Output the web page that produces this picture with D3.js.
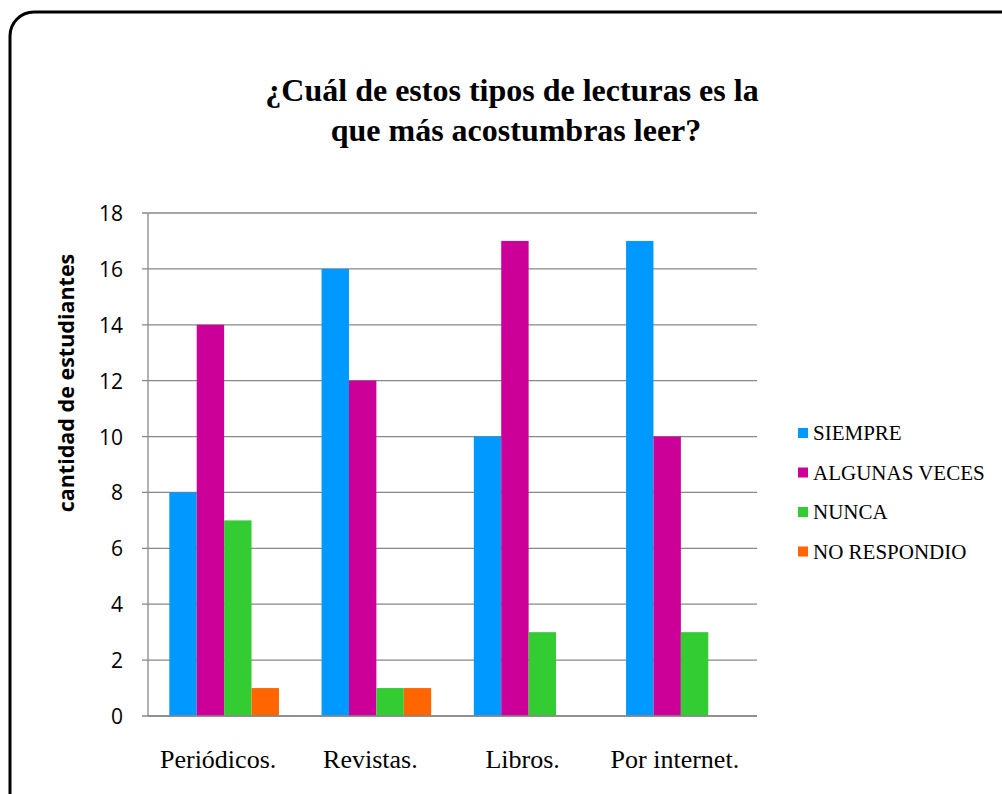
<html>
<head>
  <meta charset="utf-8">
  <title>Tipos de lecturas</title>
  <style>
    html, body { margin: 0; padding: 0; background: #fff; }
    svg { display: block; }
  </style>
  <script src="https://d3js.org/d3.v7.js" charset="utf-8"></script>
</head>
<body>
<script>
  var categories = ['Periódicos.', 'Revistas.', 'Libros.', 'Por internet.'];
  var seriesNames = ['SIEMPRE', 'ALGUNAS VECES', 'NUNCA', 'NO RESPONDIO'];
  var siempre = [8, 16, 10, 17];
  var algunasVeces = [14, 12, 17, 10];
  var nunca = [7, 1, 3, 3];
  var noRespondio = [1, 1, 0, 0];
  var yTicks = [0, 2, 4, 6, 8, 10, 12, 14, 16, 18];
  var colors = ['#0099FF', '#CC0099', '#33CC33', '#FF6600'];

  var width = 1002, height = 794;
  var svg = d3.select('body').append('svg')
    .attr('width', width)
    .attr('height', height);

  // marco redondeado (sale del lienzo por la derecha y abajo)
  svg.append('rect')
    .attr('x', 10).attr('y', 12)
    .attr('width', 1020).attr('height', 820)
    .attr('rx', 24).attr('ry', 24)
    .attr('fill', '#fff')
    .attr('stroke', '#000')
    .attr('stroke-width', 3);

  var values = [siempre, algunasVeces, nunca, noRespondio];
  var rows = categories.map(function (c, i) {
    return { cat: c, vals: values.map(function (s) { return s[i]; }) };
  });

  var plotLeft = 148, plotRight = 757, plotTop = 213, plotBottom = 716;

  var x0 = d3.scaleBand().domain(categories).range([plotLeft, plotRight]).paddingInner(0.28).paddingOuter(0.14);
  var x1 = d3.scaleBand().domain(seriesNames).range([0, x0.bandwidth()]);
  var y = d3.scaleLinear().domain([0, 18]).range([plotBottom, plotTop]);

  // rejilla
  svg.append('g').selectAll('line')
    .data(yTicks)
    .enter().append('line')
    .attr('x1', plotLeft - 6).attr('x2', plotRight)
    .attr('y1', d => y(d)).attr('y2', d => y(d))
    .attr('stroke', '#888').attr('stroke-width', 1.3);

  // eje vertical
  svg.append('line')
    .attr('x1', plotLeft).attr('x2', plotLeft)
    .attr('y1', plotTop).attr('y2', plotBottom)
    .attr('stroke', '#888').attr('stroke-width', 1.3);

  svg.append('g').selectAll('text')
    .data(yTicks)
    .enter().append('text')
    .attr('x', plotLeft - 25).attr('y', d => y(d) + 8)
    .attr('text-anchor', 'end')
    .attr('font-family', '"Open Sans", sans-serif')
    .attr('font-size', 21)
    .text(d => d);

  // barras
  var groups = svg.append('g').selectAll('g')
    .data(rows)
    .enter().append('g')
    .attr('transform', d => 'translate(' + x0(d.cat) + ',0)');

  groups.selectAll('rect')
    .data(d => d.vals.map((v, i) => ({ key: seriesNames[i], v: v, i: i })))
    .enter().append('rect')
    .attr('x', d => x1(d.key))
    .attr('width', x1.bandwidth())
    .attr('y', d => y(d.v))
    .attr('height', d => y(0) - y(d.v))
    .attr('fill', d => colors[d.i]);

  // linea base
  svg.append('line')
    .attr('x1', plotLeft).attr('x2', plotRight)
    .attr('y1', plotBottom).attr('y2', plotBottom)
    .attr('stroke', '#888').attr('stroke-width', 1.3);

  // etiquetas de categorias
  svg.append('g').selectAll('text')
    .data(categories)
    .enter().append('text')
    .attr('x', d => x0(d) + x0.bandwidth() / 2 - 6)
    .attr('y', 768)
    .attr('text-anchor', 'middle')
    .attr('font-family', '"Liberation Serif", serif')
    .attr('font-size', 26)
    .text(d => d);

  // titulo
  var title = svg.append('text')
    .attr('text-anchor', 'middle')
    .attr('font-family', '"Liberation Serif", serif')
    .attr('font-weight', 'bold')
    .attr('font-size', 32);
  title.append('tspan').attr('x', 512).attr('y', 101).text('¿Cuál de estos tipos de lecturas es la');
  title.append('tspan').attr('x', 516).attr('y', 141).text('que más acostumbras leer?');

  // titulo eje y
  svg.append('text')
    .attr('transform', 'translate(74,383) rotate(-90)')
    .attr('text-anchor', 'middle')
    .attr('font-family', '"Open Sans", sans-serif')
    .attr('font-weight', 'bold')
    .attr('font-size', 21.5)
    .text('cantidad de estudiantes');

  // leyenda
  var legend = svg.append('g').selectAll('g')
    .data(seriesNames)
    .enter().append('g')
    .attr('transform', (d, i) => 'translate(798,' + (428 + i * 39.5) + ')');
  legend.append('rect')
    .attr('width', 10).attr('height', 10)
    .attr('fill', (d, i) => colors[i]);
  legend.append('text')
    .attr('x', 15).attr('y', 12)
    .attr('font-family', '"Liberation Serif", serif')
    .attr('font-size', 21)
    .text(d => d);
</script>
</body>
</html>
